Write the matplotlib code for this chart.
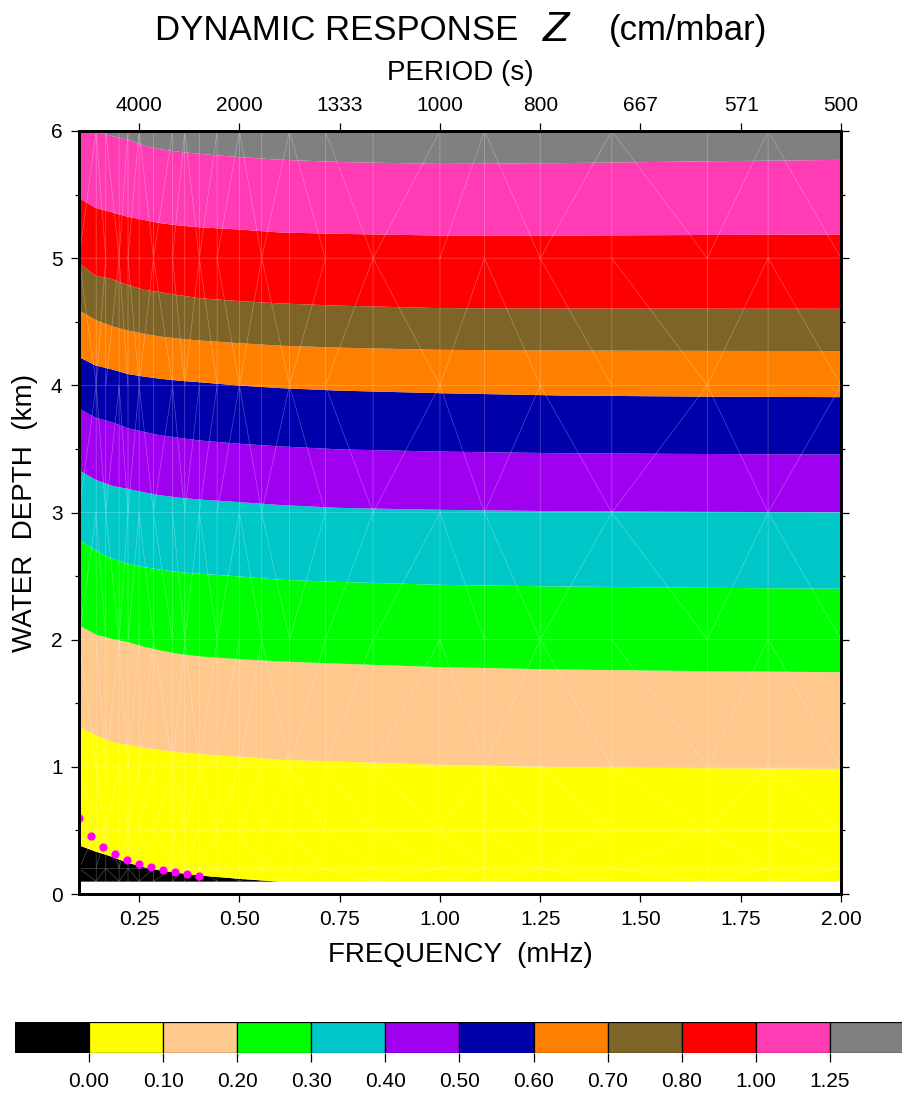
import matplotlib
matplotlib.use('Agg')
import matplotlib.pyplot as plt
import matplotlib.tri as mtri
import numpy as np

plt.rcParams['font.family'] = ['Liberation Sans', 'DejaVu Sans']

# frequency nodes (mHz) where the contour boundaries were read
freq = [0.10, 0.14, 0.18, 0.22, 0.26, 0.30, 0.35, 0.40, 0.50, 0.60, 0.75, 1.00, 1.30, 1.65, 2.00]

# depth (km) of each contour level along freq
d_000 = [0.385, 0.338, 0.298, 0.25, 0.215, 0.19, 0.168, 0.149, 0.123, 0.10, 0.10, 0.10, 0.10, 0.10, 0.10]
d_010 = [1.316, 1.255, 1.20, 1.177, 1.155, 1.136, 1.117, 1.104, 1.083, 1.06, 1.045, 1.02, 1.001, 0.993, 0.988]
d_020 = [2.115, 2.045, 2.01, 1.985, 1.948, 1.92, 1.89, 1.872, 1.85, 1.833, 1.815, 1.788, 1.769, 1.757, 1.748]
d_030 = [2.789, 2.704, 2.642, 2.602, 2.575, 2.555, 2.535, 2.522, 2.501, 2.475, 2.458, 2.435, 2.422, 2.412, 2.404]
d_040 = [3.334, 3.262, 3.215, 3.19, 3.163, 3.14, 3.12, 3.106, 3.085, 3.063, 3.04, 3.025, 3.014, 3.009, 3.006]
d_050 = [3.819, 3.75, 3.715, 3.667, 3.638, 3.612, 3.59, 3.57, 3.544, 3.524, 3.50, 3.483, 3.470, 3.464, 3.460]
d_060 = [4.225, 4.16, 4.13, 4.093, 4.073, 4.056, 4.04, 4.028, 4.002, 3.982, 3.962, 3.942, 3.924, 3.915, 3.911]
d_070 = [4.592, 4.518, 4.47, 4.435, 4.41, 4.388, 4.37, 4.356, 4.335, 4.316, 4.30, 4.283, 4.278, 4.275, 4.273]
d_080 = [4.964, 4.866, 4.84, 4.793, 4.756, 4.737, 4.712, 4.689, 4.666, 4.648, 4.63, 4.611, 4.608, 4.607, 4.606]
d_100 = [5.475, 5.40, 5.365, 5.33, 5.305, 5.28, 5.26, 5.247, 5.229, 5.206, 5.195, 5.182, 5.182, 5.186, 5.19]
d_125 = [6.10, 6.03, 5.965, 5.937, 5.89, 5.86, 5.84, 5.824, 5.798, 5.778, 5.76, 5.745, 5.751, 5.765, 5.777]
depth_min = 0.1
depth_max = 6.0

level_labels = ['0.00', '0.10', '0.20', '0.30', '0.40', '0.50', '0.60', '0.70', '0.80', '1.00', '1.25']
band_colors = ['#000000', '#ffff00', '#ffc88c', '#00ff00', '#00c8c8', '#a000f0',
               '#0000aa', '#ff8000', '#7f6428', '#ff0000', '#ff3cb4', '#808080']

# magenta markers
dot_freq = [0.10, 0.13, 0.16, 0.19, 0.22, 0.25, 0.28, 0.31, 0.34, 0.37, 0.40]
dot_depth = [0.595, 0.456, 0.370, 0.312, 0.267, 0.236, 0.210, 0.189, 0.171, 0.157, 0.144]

# grid nodes of the original triangulated surface
mesh_periods = [10000, 7000, 6000, 5000, 4500, 4000, 3500, 3000, 2750, 2500, 2250, 2000,
                1800, 1600, 1400, 1200, 1000, 900, 800, 700, 600, 550, 500]
mesh_depths = [0.1, 0.2, 0.5, 1, 2, 3, 4, 5, 6]

period_ticks = [4000, 2000, 1333, 1000, 800, 667, 571, 500]
freq_ticks = [0.25, 0.50, 0.75, 1.00, 1.25, 1.50, 1.75, 2.00]

W, H = 903, 1094
fig = plt.figure(figsize=(W / 100, H / 100), dpi=100)
ax = fig.add_axes([79 / W, 1 - 894 / H, 762 / W, 763 / H])

bounds = [depth_min, d_000, d_010, d_020, d_030, d_040, d_050, d_060, d_070, d_080, d_100, d_125, depth_max]
f = np.array(freq)
for i, c in enumerate(band_colors):
    lo = np.broadcast_to(np.minimum(bounds[i], depth_max), f.shape)
    hi = np.broadcast_to(np.minimum(bounds[i + 1], depth_max), f.shape)
    ax.fill_between(f, lo, hi, color=c, lw=0, zorder=1)

# faint triangulation lines
mf, md = np.meshgrid(1000.0 / np.array(mesh_periods), mesh_depths)
mf, md = mf.ravel(), md.ravel()
tri0 = mtri.Triangulation((mf - 0.1) / 1.9 * 762, md / 6 * 763)
tri = mtri.Triangulation(mf, md, tri0.triangles)
ax.triplot(tri, color='white', lw=0.5, alpha=0.3, zorder=2)

ax.plot(dot_freq, dot_depth, 'o', color='#ff00ff', ms=5.9, mew=0, zorder=3)

ax.set_xlim(0.1, 2.0)
ax.set_ylim(0, 6)
ax.set_xticks(freq_ticks)
ax.set_xticklabels([f'{v:.2f}' for v in freq_ticks])
ax.set_yticks(range(7))
ax.set_yticks(np.arange(0.5, 6, 1.0), minor=True)
ax.tick_params(which='major', direction='out', length=5.8, width=0.9, labelsize=15, pad=6,
               right=True, color='black')
ax.tick_params(which='minor', direction='out', length=2.9, width=0.9, right=True)
for s in ax.spines.values():
    s.set_linewidth(2.0)
    s.set_zorder(5)

ax2 = ax.twiny()
ax2.set_xlim(0.1, 2.0)
ax2.set_xticks([1000.0 / p for p in period_ticks])
ax2.set_xticklabels([str(p) for p in period_ticks])
ax2.tick_params(direction='out', length=5.8, width=0.9, labelsize=15, pad=6)
for s in ax2.spines.values():
    s.set_linewidth(2.0)

fig.text(518 / W, 1 - 40 / H, 'DYNAMIC RESPONSE', ha='right', va='baseline', fontsize=25)
fig.text(556 / W, 1 - 41 / H, 'Z', ha='center', va='baseline', fontsize=31, style='italic')
fig.text(609 / W, 1 - 40 / H, '(cm/mbar)', ha='left', va='baseline', fontsize=25)
fig.text(460 / W, 1 - 73 / H, 'PERIOD (s)', ha='center', va='center', fontsize=20)
fig.text(460 / W, 1 - 955 / H, 'FREQUENCY  (mHz)', ha='center', va='center', fontsize=20)
fig.text(25 / W, 1 - 513 / H, 'WATER  DEPTH  (km)', ha='center', va='center', fontsize=20,
         rotation=90)

# colour scale
cax = fig.add_axes([15 / W, 1 - 1053 / H, 889 / W, 31 / H])
cax.bar(np.arange(len(band_colors)), 1, width=1, align='edge', color=band_colors,
        edgecolor='black', lw=0.9)
cax.set_xlim(0, len(band_colors))
cax.set_ylim(0, 1)
cax.set_yticks([])
cax.set_xticks(np.arange(1, len(band_colors)))
cax.set_xticklabels(level_labels)
cax.tick_params(direction='out', length=6.5, width=0.9, labelsize=15, pad=7)
for s in cax.spines.values():
    s.set_visible(False)

fig.savefig('out.png', dpi=100)
